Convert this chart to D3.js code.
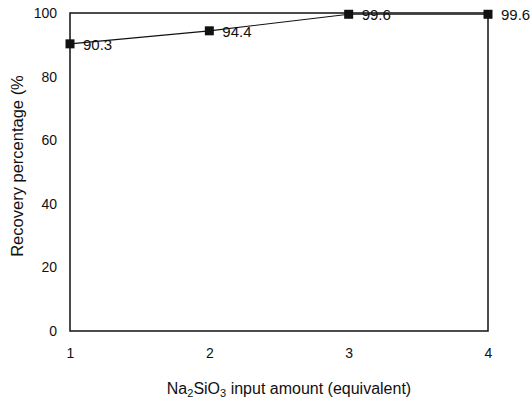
<!DOCTYPE html>
<html>
<head>
<meta charset="utf-8">
<script src="https://cdn.jsdelivr.net/npm/d3@7"></script>
<style>
  body { margin: 0; background: #fff; }
  text { font-family: "Liberation Sans", Arial, sans-serif; fill: #111; }
</style>
</head>
<body>
<svg id="chart" width="532" height="408"></svg>
<script>
var xValues = [1, 2, 3, 4];
var recovery = [90.3, 94.4, 99.6, 99.6];
var pointLabels = ["90.3", "94.4", "99.6", "99.6"];
var yTicks = [0, 20, 40, 60, 80, 100];

var svg = d3.select("#chart");
var margin = { top: 13, left: 70, right: 44, bottom: 77 };
var width = 532 - margin.left - margin.right;
var height = 408 - margin.top - margin.bottom;

var xScale = d3.scaleLinear().domain([1, 4]).range([0, width]);
var yScale = d3.scaleLinear().domain([0, 100]).range([height, 0]);

var chart = svg.append("g")
    .attr("transform", `translate(${margin.left},${margin.top})`);

// plot box
chart.append("rect")
    .attr("x", 0).attr("y", 0)
    .attr("width", width).attr("height", height)
    .attr("fill", "none")
    .attr("stroke", "#111")
    .attr("stroke-width", 1.5);

// y axis, labels only
var yAxis = chart.append("g")
    .call(d3.axisLeft(yScale).tickValues(yTicks).tickSize(0).tickPadding(13));
yAxis.select(".domain").remove();
yAxis.selectAll("text").style("font-size", "14px");

// x axis, labels only
var xAxis = chart.append("g")
    .attr("transform", `translate(0,${height})`)
    .call(d3.axisBottom(xScale).tickValues(xValues).tickFormat(d3.format("d")).tickSize(0).tickPadding(17));
xAxis.select(".domain").remove();
xAxis.selectAll("text").style("font-size", "14px");

// line
var pts = xValues.map((x, i) => ({ x: x, y: recovery[i], label: pointLabels[i] }));
var line = d3.line().x(d => xScale(d.x)).y(d => yScale(d.y));
chart.append("path")
    .datum(pts)
    .attr("d", line)
    .attr("fill", "none")
    .attr("stroke", "#111")
    .attr("stroke-width", 1.2);

// markers
chart.selectAll(".marker")
    .data(pts)
    .join("rect")
    .attr("class", "marker")
    .attr("x", d => xScale(d.x) - 4.5)
    .attr("y", d => yScale(d.y) - 4.5)
    .attr("width", 9)
    .attr("height", 9)
    .attr("fill", "#111");

// point labels
chart.selectAll(".plabel")
    .data(pts)
    .join("text")
    .attr("class", "plabel")
    .attr("x", d => xScale(d.x) + 13)
    .attr("y", d => yScale(d.y) + 6)
    .style("font-size", "15px")
    .text(d => d.label);

// axis titles
svg.append("text")
    .attr("x", 289)
    .attr("y", 394)
    .attr("text-anchor", "middle")
    .style("font-size", "16px")
    .html('Na<tspan font-size="11px" dy="3">2</tspan><tspan dy="-3">SiO</tspan><tspan font-size="11px" dy="3">3</tspan><tspan dy="-3"> input amount (equivalent)</tspan>');

svg.append("text")
    .attr("transform", "rotate(-90)")
    .attr("x", -166)
    .attr("y", 23)
    .attr("text-anchor", "middle")
    .style("font-size", "16.5px")
    .text("Recovery percentage (%");
</script>
</body>
</html>
